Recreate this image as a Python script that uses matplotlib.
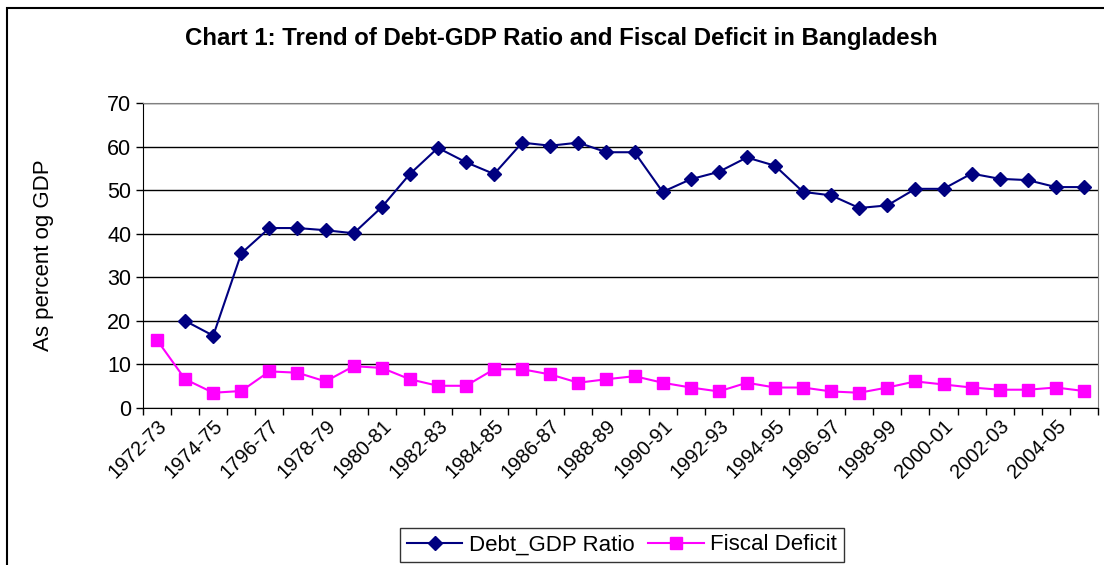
import numpy as np
import matplotlib
matplotlib.use("Agg")
from matplotlib import pyplot as plt
from matplotlib.patches import Rectangle

plt.rcParams['font.family'] = ['Liberation Sans', 'DejaVu Sans']

# 年份 (原图里 1976-77 写成了 1796-77)
years = ['1972-73', '1973-74', '1974-75', '1975-76', '1796-77', '1977-78',
         '1978-79', '1979-80', '1980-81', '1981-82', '1982-83', '1983-84',
         '1984-85', '1985-86', '1986-87', '1987-88', '1988-89', '1989-90',
         '1990-91', '1991-92', '1992-93', '1993-94', '1994-95', '1995-96',
         '1996-97', '1997-98', '1998-99', '1999-00', '2000-01', '2001-02',
         '2002-03', '2003-04', '2004-05', '2005-06']

# 债务/GDP, 第一年没有数据
debt_gdp = [np.nan, 20.0, 16.6, 35.5, 41.3, 41.3, 40.8, 40.1, 46.1, 53.7,
            59.7, 56.4, 53.7, 60.9, 60.2, 60.9, 58.7, 58.7, 49.6, 52.5,
            54.2, 57.5, 55.6, 49.6, 48.8, 45.9, 46.5, 50.3, 50.3, 53.8,
            52.6, 52.3, 50.7, 50.7]

fiscal_deficit = [15.6, 6.6, 3.5, 3.9, 8.4, 8.1, 6.1, 9.6, 9.2, 6.6,
                  5.1, 5.1, 8.9, 8.9, 7.7, 5.8, 6.6, 7.3, 5.8, 4.7,
                  3.8, 5.8, 4.7, 4.7, 3.8, 3.5, 4.7, 6.1, 5.4, 4.7,
                  4.2, 4.2, 4.7, 3.9]

y_ticks = [0, 10, 20, 30, 40, 50, 60, 70]

fig = plt.figure(figsize=(11.04, 5.65), dpi=100)
ax = fig.add_axes([143 / 1104, 1 - 408 / 565, (1098 - 143) / 1104, (408 - 103) / 565])

x = np.arange(len(years))
ax.plot(x, debt_gdp, color='#000080', lw=1.5, marker='D', ms=7,
        label='Debt_GDP Ratio')
ax.plot(x, fiscal_deficit, color='#FF00FF', lw=1.5, marker='s', ms=8,
        label='Fiscal Deficit')

ax.set_xlim(-0.5, len(years) - 0.5)
ax.set_ylim(0, 70)
ax.set_yticks(y_ticks)
ax.tick_params(axis='y', labelsize=15.5, length=5, width=1, direction='out')
ax.yaxis.grid(True, color='black', lw=1)
ax.set_axisbelow(True)

# 刻度在类别之间, 标签隔一个显示
ax.set_xticks(np.arange(-0.5, len(years), 1.0), minor=True)
ax.set_xticks(x[::2])
ax.set_xticklabels(years[::2], rotation=45, ha='right', rotation_mode='anchor',
                   fontsize=14.5)
ax.tick_params(axis='x', which='major', length=0, pad=6)
ax.tick_params(axis='x', which='minor', length=5, width=1, direction='out')

for s in ['top', 'right']:
    ax.spines[s].set_color('#808080')
for s in ['left', 'bottom']:
    ax.spines[s].set_color('black')

ax.set_ylabel('As percent og GDP', fontsize=16, labelpad=38)

fig.text(0.508, 1 - 38 / 565, 'Chart 1: Trend of Debt-GDP Ratio and Fiscal Deficit in Bangladesh',
         ha='center', va='center', fontsize=17.3, fontweight='bold')

leg = fig.legend(loc='center', bbox_to_anchor=(622 / 1104, 1 - 545 / 565), ncol=2,
                 fontsize=16, frameon=True, fancybox=False, edgecolor='black',
                 handlelength=2.5, columnspacing=0.6, handletextpad=0.3,
                 borderpad=0.3)
leg.get_frame().set_linewidth(1)

# 外框
fig.patches.append(Rectangle((7 / 1104, -0.2), 1.2, 1.2 - 8 / 565,
                             transform=fig.transFigure, fill=False,
                             edgecolor='black', lw=1.5))

fig.savefig('out.png', dpi=100)
